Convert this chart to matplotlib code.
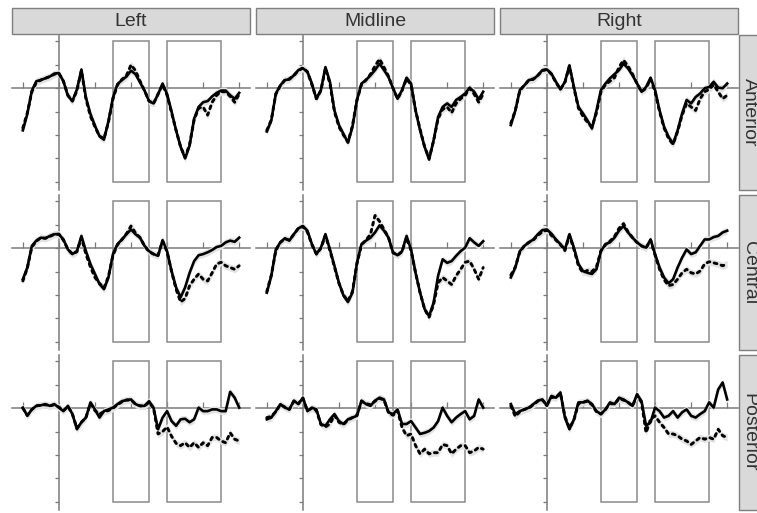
import numpy as np
import matplotlib
matplotlib.use("Agg")
import matplotlib.pyplot as plt
from matplotlib.patches import Rectangle

# ---------------- data ----------------
time_ms = np.arange(-200, 1001, 25)
columns = ["Left", "Midline", "Right"]
rows = ["Anterior", "Central", "Posterior"]
windows = [(300, 500), (600, 900)]
xticks = [-200, 0, 200, 400, 600, 800, 1000]
yticks = [-8, -6, -4, -2, 0, 2, 4]

la_solid = [-3.6, -2.2, -0.2, 0.6, 0.7, 0.85, 1.0, 1.25, 1.3, 0.6, -0.65, -1.1, -0.1, 1.6, -0.8, -2.2,
            -3.2, -4.1, -4.4, -2.8, -0.8, 0.35, 0.7, 1.0, 1.5, 1.2, 0.5, -0.2, -1.1, -1.3, -0.5, 0.4,
            -0.5, -2.0, -3.6, -5.0, -6.0, -4.9, -2.6, -1.6, -1.2, -1.1, -0.7, -0.4, -0.2, -0.2, -0.6, -0.9, -0.4]
la_dotted = [-3.4, -2.1, -0.3, 0.5, 0.7, 0.85, 1.0, 1.2, 1.25, 0.6, -0.6, -1.1, -0.2, 1.5, -0.9, -2.4,
             -3.3, -4.1, -4.3, -2.9, -0.9, 0.3, 0.75, 1.1, 2.0, 1.5, 0.6, -0.2, -1.1, -1.3, -0.5, 0.3,
             -0.6, -2.1, -3.6, -5.0, -5.9, -4.8, -2.7, -1.7, -1.6, -2.3, -1.2, -0.6, -0.3, -0.3, -0.7, -1.2, -0.5]

ma_solid = [-3.7, -2.75, -0.45, 0.25, 0.7, 0.75, 1.1, 1.55, 1.7, 1.4, 0.4, -0.9, -0.15, 1.8, 0.55, -1.9,
            -3.15, -3.9, -4.65, -3.3, -1.0, 0.4, 0.7, 1.1, 1.55, 2.1, 1.55, 0.95, 0.0, -0.9, -0.15, 0.9,
            0.4, -1.9, -3.6, -5.0, -6.1, -4.45, -2.45, -1.6, -1.3, -1.6, -1.0, -0.75, -0.45, 0.05, -0.3, -0.95, -0.3]
ma_dotted = [-3.6, -2.7, -0.5, 0.2, 0.7, 0.8, 1.1, 1.5, 1.75, 1.4, 0.3, -0.9, -0.2, 1.7, 0.4, -2.0,
             -3.3, -4.0, -4.6, -3.2, -1.0, 0.3, 0.7, 1.2, 1.9, 2.5, 1.8, 1.0, 0.0, -0.9, -0.2, 0.8,
             0.3, -1.9, -3.5, -5.0, -6.0, -4.5, -2.6, -1.8, -1.6, -2.1, -1.3, -0.9, -0.6, 0.0, -0.5, -1.2, -0.5]

ra_solid = [-3.15, -1.9, -0.15, 0.25, 0.7, 0.75, 1.1, 1.55, 1.6, 1.25, 0.55, -0.1, 0.55, 1.95, 0.1, -1.6,
            -2.15, -2.75, -3.45, -1.9, -0.15, 0.4, 0.85, 1.2, 1.55, 2.1, 1.7, 1.1, 0.4, -0.3, 0.1, 0.9,
            -0.15, -1.9, -3.3, -4.15, -4.75, -3.6, -2.15, -1.0, -1.3, -0.75, -0.45, 0.0, 0.1, 0.55, 0.05, 0.0, 0.4]
ra_dotted = [-3.0, -1.9, -0.2, 0.25, 0.7, 0.8, 1.1, 1.5, 1.6, 1.2, 0.5, -0.1, 0.5, 1.9, 0.0, -1.7,
             -2.4, -2.9, -3.3, -2.1, -0.3, 0.3, 0.6, 0.9, 1.8, 2.4, 1.9, 1.2, 0.4, -0.3, 0.0, 0.8,
             -0.3, -2.0, -3.4, -4.3, -4.8, -3.7, -2.3, -1.3, -1.6, -1.9, -0.9, -0.3, -0.1, 0.3, -0.3, -0.9, -0.6]

lc_solid = [-2.65, -1.65, 0.2, 0.65, 0.9, 0.85, 1.05, 1.2, 1.2, 0.75, -0.1, -0.5, -0.25, 1.05, -0.25, -1.35,
            -2.2, -3.05, -3.5, -2.5, -0.5, 0.35, 0.75, 1.2, 1.6, 1.2, 0.9, 0.2, -0.25, -0.5, -0.65, 0.7,
            -0.25, -1.95, -3.35, -4.2, -3.35, -2.1, -1.1, -0.6, -0.5, -0.35, -0.15, 0.1, 0.2, 0.5, 0.65, 0.55, 0.9]
lc_dotted = [-2.8, -1.7, 0.1, 0.6, 0.9, 0.85, 1.0, 1.2, 1.2, 0.7, -0.1, -0.5, -0.3, 0.9, -0.5, -1.6,
             -2.5, -3.0, -3.4, -2.4, -0.6, 0.3, 0.75, 1.25, 1.9, 1.3, 0.9, 0.2, -0.3, -0.5, -0.6, 0.6,
             -0.3, -2.0, -3.5, -4.6, -4.3, -3.2, -2.65, -2.2, -2.65, -2.8, -2.1, -1.35, -1.2, -1.5, -1.65, -1.8, -1.5]

mc_solid = [-3.8, -2.35, -0.1, 0.5, 0.85, 0.65, 1.2, 1.7, 1.9, 1.5, 0.35, -0.5, 0.05, 1.2, -0.1, -1.5,
            -2.95, -4.05, -4.6, -3.8, -1.25, 0.35, 0.65, 0.9, 1.35, 1.95, 1.5, 0.9, -0.35, -0.6, -0.25, 1.05,
            -0.1, -2.1, -3.8, -5.2, -5.8, -4.65, -2.35, -0.95, -1.25, -1.1, -0.65, -0.25, 0.05, 0.85, 0.5, 0.2, 0.6]
mc_dotted = [-3.7, -2.3, -0.2, 0.5, 0.8, 0.7, 1.2, 1.7, 1.85, 1.4, 0.3, -0.5, 0.0, 1.1, -0.2, -1.6,
             -3.0, -4.0, -4.5, -3.7, -1.3, 0.3, 0.7, 1.2, 2.8, 2.3, 1.6, 0.9, -0.4, -0.6, -0.3, 0.9,
             -0.2, -2.1, -3.8, -5.2, -5.9, -4.8, -2.95, -2.5, -2.8, -3.1, -2.35, -1.8, -1.2, -1.1, -1.8, -2.65, -1.65]

rc_solid = [-2.5, -1.65, -0.25, 0.2, 0.5, 0.75, 1.2, 1.55, 1.6, 1.25, 0.75, 0.35, -0.1, 1.2, 0.05, -1.35,
            -1.95, -2.1, -2.2, -1.8, -0.25, 0.35, 0.5, 0.9, 1.5, 1.9, 1.35, 0.9, 0.5, 0.2, 0.05, 0.75,
            -0.5, -1.65, -2.5, -3.0, -2.65, -1.65, -0.8, -0.1, -0.5, -0.35, 0.2, 0.75, 0.75, 0.95, 1.05, 1.35, 1.5]
rc_dotted = [-2.3, -1.6, -0.3, 0.2, 0.5, 0.7, 1.1, 1.4, 1.55, 1.1, 0.7, 0.3, -0.2, 1.1, -0.1, -1.5,
             -2.1, -1.9, -2.0, -1.6, -0.2, 0.3, 0.6, 1.0, 1.7, 2.1, 1.4, 0.9, 0.5, 0.2, 0.0, 0.7,
             -0.6, -1.8, -2.7, -3.2, -3.1, -2.65, -2.1, -1.8, -2.1, -2.2, -1.95, -1.35, -1.15, -1.25, -1.35, -1.5, -1.35]

lp_solid = [0.05, -0.65, -0.1, 0.2, 0.25, 0.35, 0.2, 0.35, 0.05, -0.25, 0.2, -0.5, -1.8, -1.2, -0.8, 0.5,
            -0.1, -0.8, -0.25, -0.1, 0.05, 0.35, 0.6, 0.7, 0.75, 0.35, 0.2, 0.2, 0.6, 0.05, -1.8, -0.8,
            -0.25, -1.1, -1.5, -0.95, -0.9, -1.2, -0.95, 0.05, -0.25, -0.25, -0.1, -0.1, -0.25, -0.25, 1.4, 0.9, 0.05]
lp_dotted = [0.0, -0.6, -0.1, 0.2, 0.25, 0.3, 0.2, 0.3, 0.1, -0.2, 0.15, -0.5, -1.7, -1.2, -0.8, 0.4,
             -0.2, -0.5, -0.3, -0.2, 0.0, 0.3, 0.55, 0.7, 0.7, 0.35, 0.2, 0.2, 0.5, 0.0, -2.2, -2.0,
             -1.6, -2.4, -3.0, -3.2, -2.95, -3.35, -2.95, -3.35, -2.95, -3.2, -2.5, -2.5, -2.8, -2.95, -2.1, -2.65, -2.8]

mp_solid = [-0.95, -0.8, -0.25, 0.35, 0.05, -0.1, 0.65, 0.35, 0.9, -0.25, 0.05, -0.1, -1.35, -1.5, -0.95, -0.5,
            -1.1, -1.35, -0.95, -0.8, -0.65, 0.65, 0.35, 0.2, 0.65, 0.9, 0.75, -0.35, -0.5, -0.1, -1.35, -1.35,
            -1.1, -1.65, -2.2, -2.1, -1.95, -1.65, -1.1, 0.05, -0.65, -1.2, -0.8, -0.5, -0.25, -0.95, -0.65, 0.75, 0.05]
mp_dotted = [-0.8, -0.7, -0.3, 0.3, 0.1, -0.1, 0.6, 0.4, 0.85, -0.2, 0.0, -0.2, -1.4, -1.6, -1.35, -0.6,
             -1.2, -1.4, -1.0, -0.8, -0.6, 0.6, 0.4, 0.3, 0.6, 0.85, 0.7, -0.4, -0.6, -0.2, -1.65, -2.35,
             -2.2, -3.2, -3.9, -3.5, -3.9, -3.8, -3.8, -3.1, -3.2, -3.9, -3.5, -3.2, -3.2, -3.8, -3.65, -3.35, -3.5]

rp_solid = [0.35, -0.5, -0.25, -0.1, 0.05, 0.35, 0.65, 0.75, 0.2, 1.05, 0.9, 1.35, -0.8, -1.8, -0.95, 0.5,
            0.5, 0.65, 0.35, -0.25, -0.5, -0.1, 0.5, 0.35, 0.9, 0.75, 0.5, 0.2, 1.2, 0.6, -1.5, -1.2,
            0.05, -0.25, -0.8, -0.65, -0.25, -0.8, -0.35, -0.1, -0.65, -0.8, -0.5, -0.25, 0.5, 0.05, 1.6, 2.2, 0.75]
rp_dotted = [0.2, -0.7, -0.3, -0.1, 0.0, 0.3, 0.6, 0.7, 0.3, 0.95, 0.9, 1.3, -0.7, -1.7, -1.0, 0.4,
             0.5, 0.6, 0.3, -0.3, -0.5, -0.1, 0.4, 0.35, 0.8, 0.7, 0.5, 0.2, 1.1, 0.5, -2.1, -0.95,
             -0.65, -1.2, -1.65, -2.2, -2.2, -2.35, -2.65, -2.8, -3.1, -2.8, -2.5, -2.65, -2.5, -2.65, -1.8, -2.35, -2.5]

solid = [[la_solid, ma_solid, ra_solid], [lc_solid, mc_solid, rc_solid], [lp_solid, mp_solid, rp_solid]]
dotted = [[la_dotted, ma_dotted, ra_dotted], [lc_dotted, mc_dotted, rc_dotted], [lp_dotted, mp_dotted, rp_dotted]]
ribbon_half = 0.3

# ---------------- layout ----------------
W, H = 757, 513
fig = plt.figure(figsize=(W / 100, H / 100), dpi=100)
col_x = [12, 256, 500]
panel_w = 238
row_y = [35, 195, 355]
panel_h = 155
axis_col = "#7a7a7a"
rect_col = "#8a8a8a"
strip_fill = "#d9d9d9"
strip_edge = "#7f7f7f"
font = ["Liberation Sans", "DejaVu Sans"]


def fx(px):
    return px / W


def fy(py):
    return 1 - py / H


for r in range(3):
    for c in range(3):
        x0 = col_x[c]
        y0 = row_y[r]
        ax = fig.add_axes([fx(x0), fy(y0 + panel_h), panel_w / W, panel_h / H])
        ax.set_facecolor("none")
        ax.set_xlim(-260, 1060)
        ax.set_ylim(-8.7, 4.55)
        for s in ["top", "right"]:
            ax.spines[s].set_visible(False)
        ax.spines["left"].set_position(("data", 0))
        ax.spines["bottom"].set_position(("data", 0))
        for s in ["left", "bottom"]:
            ax.spines[s].set_color(axis_col)
            ax.spines[s].set_linewidth(1.1)
            ax.spines[s].set_zorder(1)
        ax.set_xticks(xticks)
        ax.set_yticks(yticks)
        ax.set_xticklabels([])
        ax.set_yticklabels([])
        ax.tick_params(axis="x", direction="in", length=4, width=0.9, color=axis_col)
        ax.tick_params(axis="y", direction="out", length=3, width=0.9, color=axis_col)
        for (a, b) in windows:
            ax.add_patch(Rectangle((a, -8), b - a, 12, fill=False, edgecolor=rect_col,
                                   linewidth=1.1, zorder=2))
        s = np.array(solid[r][c])
        d = np.array(dotted[r][c])
        ax.fill_between(time_ms, d - ribbon_half, d + ribbon_half, color="#e3e3e3", lw=0, zorder=3)
        ax.fill_between(time_ms, s - ribbon_half, s + ribbon_half, color="#e3e3e3", lw=0, zorder=3)
        ax.plot(time_ms, d, color="black", lw=2.1, linestyle=(0, (1, 1.5)), zorder=4,
                solid_capstyle="round", dash_capstyle="round")
        ax.plot(time_ms, s, color="black", lw=1.9, zorder=5, solid_joinstyle="round")

# column strips
for c in range(3):
    fig.add_artist(Rectangle((fx(col_x[c]), fy(34)), panel_w / W, 26 / H,
                             transform=fig.transFigure, facecolor=strip_fill,
                             edgecolor=strip_edge, linewidth=1.0))
    fig.text(fx(col_x[c] + panel_w / 2), fy(21), columns[c], ha="center", va="center",
             fontsize=14, color="#333333", family=font)

# row strips
for r in range(3):
    fig.add_artist(Rectangle((fx(739), fy(row_y[r] + panel_h)), 30 / W, panel_h / H,
                             transform=fig.transFigure, facecolor=strip_fill,
                             edgecolor=strip_edge, linewidth=1.0))
    fig.text(fx(749), fy(row_y[r] + panel_h / 2), rows[r], ha="center", va="center",
             rotation=-90, fontsize=14, color="#333333", family=font)

fig.savefig("out.png", dpi=100)
